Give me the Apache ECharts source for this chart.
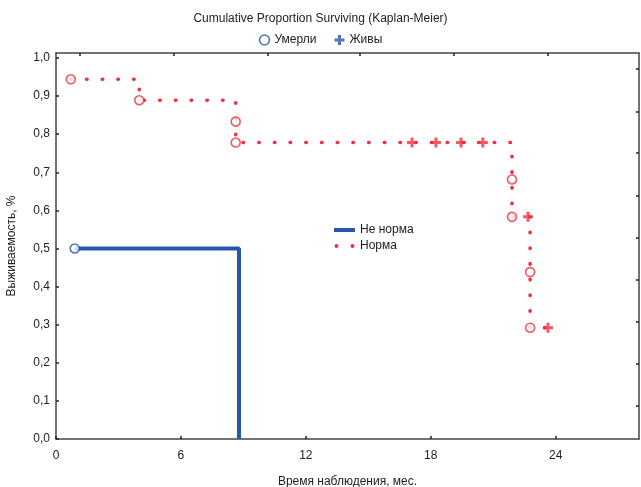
<!DOCTYPE html>
<html>
<head>
<meta charset="utf-8">
<script src="https://cdn.jsdelivr.net/npm/echarts@6/dist/echarts.min.js"></script>
<style>html,body{margin:0;padding:0;background:#fff}#c{width:641px;height:487px}</style>
</head>
<body>
<div id="c"></div>
<script>
// ---- data ----
var xTicks = [0, 6, 12, 18, 24];
var yTicks = [0, 0.1, 0.2, 0.3, 0.4, 0.5, 0.6, 0.7, 0.8, 0.9, 1.0];

// "Не норма" step curve
var neNormaTime = [0.9, 8.79];
var neNormaSurv = [0.5, 0.0];
var neNormaDeathTime = [0.9];
var neNormaDeathSurv = [0.5];

// "Норма" step curve
var normaTime = [0.71, 4.0, 8.63, 21.9, 22.77, 23.63];
var normaSurv = [0.944, 0.889, 0.778, 0.583, 0.292, 0.292];
var normaDeathTime = [0.71, 4.0, 8.63, 8.63, 21.9, 21.9, 22.77, 22.77];
var normaDeathSurv = [0.944, 0.889, 0.833, 0.778, 0.681, 0.583, 0.438, 0.292];
var normaCensTime = [17.1, 18.25, 19.45, 20.5, 22.67, 23.63];
var normaCensSurv = [0.778, 0.778, 0.778, 0.778, 0.583, 0.292];

// secondary-axis tick positions (frame ticks)
var topTicks = [1.15, 5.65, 10.15, 14.6, 19.1, 23.6];
var rightTicks = [0.0866, 0.197, 0.307, 0.418, 0.529, 0.639, 0.75, 0.86, 0.971];

var BLUE = '#2457ad';
var RED = '#f0303c';
var FONT = 'Liberation Sans, Arial, sans-serif';
var PLUS = 'path://M3.5,0H6.5V3.5H10V6.5H6.5V10H3.5V6.5H0V3.5H3.5Z';
var TWO_DOTS = 'path://M2,0A2,2 0 1 1 2,4A2,2 0 1 1 2,0ZM18,0A2,2 0 1 1 18,4A2,2 0 1 1 18,0Z';

function zip(a, b) { return a.map(function (v, i) { return [v, b[i]]; }); }

var deaths = zip(neNormaDeathTime, neNormaDeathSurv).map(function (p) {
  return { value: p, itemStyle: { borderColor: BLUE } };
}).concat(zip(normaDeathTime, normaDeathSurv).map(function (p) {
  return { value: p, itemStyle: { borderColor: RED } };
}));
var cens = zip(normaCensTime, normaCensSurv).map(function (p) {
  return { value: p, itemStyle: { color: RED } };
});

var axisLine = { show: true, onZero: false, lineStyle: { color: '#444', width: 1.5 } };
var tick = { show: true, inside: true, length: 3, lineStyle: { color: '#222', width: 1.5 } };

var option = {
  animation: false,
  backgroundColor: '#fff',
  textStyle: { fontFamily: FONT },
  title: {
    text: 'Cumulative Proportion Surviving (Kaplan-Meier)',
    left: 'center', top: 8,
    textStyle: { fontFamily: FONT, fontSize: 12, fontWeight: 'normal', color: '#222' }
  },
  legend: [{
    data: [
      { name: 'Умерли', icon: 'circle', itemStyle: { color: '#fff', borderColor: BLUE, borderWidth: 1.6 } },
      { name: 'Живы', icon: PLUS, itemStyle: { color: BLUE } }
    ],
    top: 29, left: 'center',
    itemWidth: 10, itemHeight: 10, itemGap: 18,
    textStyle: { fontFamily: FONT, fontSize: 12, color: '#222' }
  }, {
    data: [
      { name: 'Не норма', icon: 'rect', itemStyle: { color: BLUE } },
      { name: 'Норма', icon: TWO_DOTS, itemStyle: { color: RED } }
    ],
    orient: 'vertical',
    left: 329, top: 219,
    itemWidth: 21, itemHeight: 4, itemGap: 4,
    textStyle: { fontFamily: FONT, fontSize: 12, color: '#222' }
  }],
  grid: { left: 56, right: 2, top: 53, bottom: 48, containLabel: false, outerBoundsMode: 'none' },
  xAxis: [{
    type: 'value', min: 0, max: 28, interval: 6,
    name: 'Время наблюдения, мес.', nameLocation: 'middle', nameGap: 37,
    nameTextStyle: { fontFamily: FONT, fontSize: 12, color: '#222' },
    axisLine: axisLine,
    axisTick: Object.assign({}, tick, { customValues: xTicks }),
    splitLine: { show: false },
    axisLabel: { fontFamily: FONT, fontSize: 12, color: '#222', margin: 11,
      customValues: xTicks }
  }, {
    type: 'value', min: 0, max: 28, position: 'top',
    axisLine: axisLine,
    axisTick: Object.assign({}, tick, { customValues: topTicks }),
    axisLabel: { show: false }, splitLine: { show: false }
  }],
  yAxis: [{
    type: 'value', min: 0, max: 1.013, interval: 0.1,
    name: 'Выживаемость, %', nameLocation: 'middle', nameGap: 38, nameRotate: 90,
    nameTextStyle: { fontFamily: FONT, fontSize: 12, color: '#222' },
    axisLine: axisLine,
    axisTick: Object.assign({}, tick, { customValues: yTicks }),
    splitLine: { show: false },
    axisLabel: { fontFamily: FONT, fontSize: 12, color: '#222', margin: 6, customValues: yTicks,
      formatter: function (v) { return v.toFixed(1).replace('.', ','); } }
  }, {
    type: 'value', min: 0, max: 1.013, position: 'right',
    axisLine: axisLine,
    axisTick: Object.assign({}, tick, { customValues: rightTicks }),
    axisLabel: { show: false }, splitLine: { show: false }
  }],
  series: [{
    name: 'Не норма', type: 'line', step: 'end', symbol: 'none',
    data: zip(neNormaTime, neNormaSurv),
    itemStyle: { color: BLUE },
    lineStyle: { color: BLUE, width: 4 }
  }, {
    name: 'Норма', type: 'line', step: 'end', symbol: 'none',
    data: zip(normaTime, normaSurv),
    itemStyle: { color: RED },
    lineStyle: { color: RED, width: 3.6, type: [0.5, 15.2], cap: 'round' }
  }, {
    name: 'Умерли', type: 'scatter', symbol: 'circle', symbolSize: 9,
    data: deaths,
    itemStyle: { color: '#fff', borderColor: BLUE, borderWidth: 1.6 },
    z: 5
  }, {
    name: 'Живы', type: 'scatter', symbol: PLUS, symbolSize: 10,
    data: cens,
    itemStyle: { color: BLUE },
    z: 5
  }]
};

var chart = echarts.init(document.getElementById('c'), null, { renderer: 'canvas' });
chart.setOption(option);
</script>
</body>
</html>
